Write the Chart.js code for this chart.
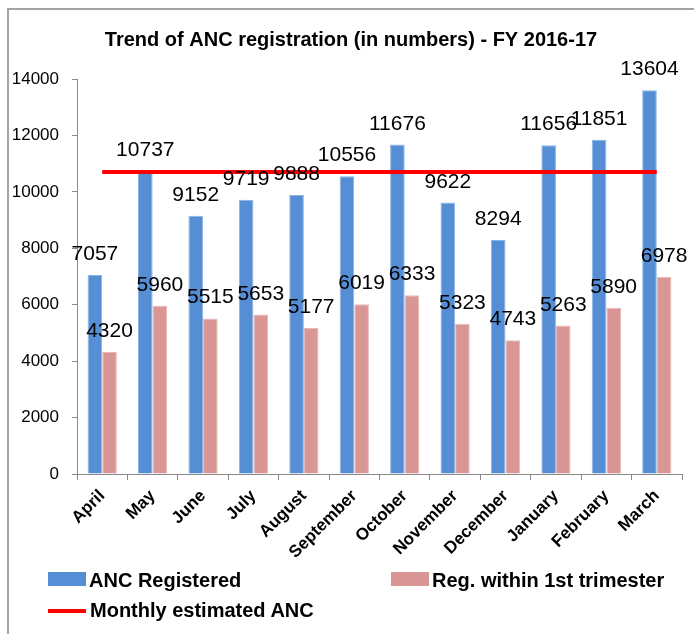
<!DOCTYPE html>
<html>
<head>
<meta charset="utf-8">
<script src="https://cdn.jsdelivr.net/npm/chart.js@4.4.0/dist/chart.umd.min.js"></script>
<style>
  html, body { margin: 0; padding: 0; background: #fff; overflow: hidden; }
  #wrap { position: relative; width: 694px; height: 634px; overflow: hidden; }
  #frame { position: absolute; left: 7px; top: 8px; width: 800px; height: 800px; border-left: 2px solid #a3a3a3; border-top: 2px solid #a3a3a3; box-sizing: border-box; }
  #chartBox { position: absolute; left: 0; top: 0; width: 694px; height: 634px; }
  .lg { position: absolute; font-family: "Liberation Sans", Arial, sans-serif; font-weight: bold; font-size: 20px; line-height: 20px; color: #000; white-space: nowrap; }
  .sw { position: absolute; }
</style>
</head>
<body>
<div id="wrap">
  <div id="frame"></div>
  <div id="chartBox"><canvas id="c"></canvas></div>
  <div id="legend"></div>
</div>
<script>
// ---- data ----
const titleText = "Trend of ANC registration (in numbers) - FY 2016-17";
const months = ["April", "May", "June", "July", "August", "September", "October", "November", "December", "January", "February", "March"];
const ancRegistered = [7057, 10737, 9152, 9719, 9888, 10556, 11676, 9622, 8294, 11656, 11851, 13604];
const regFirstTrimester = [4320, 5960, 5515, 5653, 5177, 6019, 6333, 5323, 4743, 5263, 5890, 6978];
const monthlyEstimated = [10700, 10700, 10700, 10700, 10700, 10700, 10700, 10700, 10700, 10700, 10700, 10700];
const seriesNames = ["ANC Registered", "Reg. within 1st trimester", "Monthly estimated ANC"];
const yTicks = [0, 2000, 4000, 6000, 8000, 10000, 12000, 14000];

const BLUE = "#558ED5", PINK = "#D99694", RED = "#FF0000", AXIS = "#8a8a8a";
const FONT = "'Liberation Sans', Arial, sans-serif";

const valueLabels = {
  id: "valueLabels",
  afterDatasetsDraw(chart) {
    const ctx = chart.ctx;
    ctx.save();
    ctx.font = "21px " + FONT;
    ctx.fillStyle = "#000";
    ctx.textAlign = "center";
    ctx.textBaseline = "alphabetic";
    [0, 1].forEach(di => {
      const meta = chart.getDatasetMeta(di);
      const ds = chart.data.datasets[di];
      meta.data.forEach((el, i) => {
        ctx.fillText(String(ds.data[i]), el.x, el.y - 15);
      });
    });
    ctx.restore();
  }
};

const chart = new Chart(document.getElementById("c"), {
  data: {
    labels: months,
    datasets: [
      { type: "bar", label: seriesNames[0], data: ancRegistered, backgroundColor: BLUE, borderColor: "#8DB3E2", borderWidth: 1, order: 1 },
      { type: "bar", label: seriesNames[1], data: regFirstTrimester, backgroundColor: PINK, borderColor: "#E6B9B8", borderWidth: 1, order: 1 },
      { type: "line", label: seriesNames[2], data: monthlyEstimated, borderColor: RED, backgroundColor: RED, borderWidth: 4, pointRadius: 0, fill: false, order: 0 }
    ]
  },
  options: {
    responsive: true,
    maintainAspectRatio: false,
    animation: false,
    datasets: { bar: { categoryPercentage: 0.58, barPercentage: 1.0 } },
    layout: { padding: { left: 8, right: 0, top: 0, bottom: 0 } },
    plugins: {
      legend: { display: false },
      tooltip: { enabled: false },
      title: {
        display: true,
        text: titleText,
        color: "#000",
        font: { family: FONT, size: 20, weight: "bold" },
        padding: { top: 28, bottom: 27 }
      }
    },
    scales: {
      x: {
        offset: true,
        grid: { display: true, drawOnChartArea: false, offset: true, color: AXIS, tickLength: 6 },
        border: { display: true, color: AXIS, width: 1 },
        ticks: { color: "#000", font: { family: FONT, size: 17, weight: "bold" }, minRotation: 45, maxRotation: 45, padding: 6, autoSkip: false },
        afterFit(scale) { scale.height = 160; }
      },
      y: {
        min: 0, max: 14000,
        afterBuildTicks(scale) { scale.ticks = yTicks.map(v => ({ value: v })); },
        grid: { display: true, drawOnChartArea: false, color: AXIS, tickLength: 5 },
        border: { display: true, color: AXIS, width: 1 },
        ticks: { color: "#000", font: { family: FONT, size: 17 }, padding: 13, callback: v => String(v) },
        afterFit(scale) { scale.width = 69; }
      },
      yRightSpace: {
        position: "right",
        display: true,
        min: 0, max: 14000,
        grid: { display: false },
        border: { display: false },
        ticks: { display: false },
        afterFit(scale) { scale.width = 12; }
      }
    }
  },
  plugins: [valueLabels]
});

// ---- legend (HTML, built from datasets) ----
const legendPos = [
  { box: [48, 572, 38, 14], text: [89, 570] },
  { box: [391, 572, 38, 14], text: [432, 570] },
  { box: [48, 609, 38, 4], text: [90, 600] }
];
const lg = document.getElementById("legend");
chart.data.datasets.forEach((ds, i) => {
  const p = legendPos[i];
  const sw = document.createElement("div");
  sw.className = "sw";
  sw.style.left = p.box[0] + "px"; sw.style.top = p.box[1] + "px";
  sw.style.width = p.box[2] + "px"; sw.style.height = p.box[3] + "px";
  sw.style.background = ds.type === "line" ? ds.borderColor : ds.backgroundColor;
  lg.appendChild(sw);
  const t = document.createElement("div");
  t.className = "lg";
  t.style.left = p.text[0] + "px"; t.style.top = p.text[1] + "px";
  t.textContent = ds.label;
  lg.appendChild(t);
});
</script>
</body>
</html>
